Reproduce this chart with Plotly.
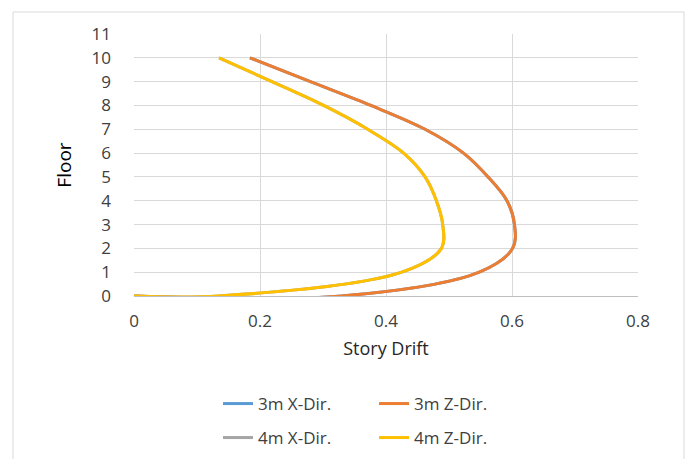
import plotly.graph_objects as go

# Values (floor 0 touch-down point included as read)
floors_3m = [0, 0, 1, 2, 3, 4, 5, 6, 7, 8, 9, 10]
drift_3m_z = [0.0, 0.33, 0.548, 0.601, 0.604, 0.592, 0.562, 0.523, 0.462, 0.376, 0.280, 0.184]
drift_3m_x = [0.0, 0.33, 0.548, 0.601, 0.604, 0.592, 0.562, 0.523, 0.462, 0.376, 0.280, 0.184]
floors_4m = [0, 0, 1, 2, 3, 4, 5, 6, 7, 8, 9, 10]
drift_4m_z = [0.0, 0.135, 0.425, 0.488, 0.490, 0.480, 0.462, 0.428, 0.371, 0.301, 0.219, 0.135]
drift_4m_x = [0.0, 0.135, 0.425, 0.488, 0.490, 0.480, 0.462, 0.428, 0.371, 0.301, 0.219, 0.135]

x_ticks = [0, 0.2, 0.4, 0.6, 0.8]
x_tick_labels = ["0", "0.2", "0.4", "0.6", "0.8"]
y_ticks = list(range(0, 12))

FONT = "Open Sans"
TXT = "#404040"

fig = go.Figure()
series = [
    ("3m X-Dir.", drift_3m_x, floors_3m, "#5B9BD5", "legend"),
    ("3m Z-Dir.", drift_3m_z, floors_3m, "#ED7D31", "legend"),
    ("4m X-Dir.", drift_4m_x, floors_4m, "#A5A5A5", "legend2"),
    ("4m Z-Dir.", drift_4m_z, floors_4m, "#FFC000", "legend2"),
]
for name, xs, ys, col, lg in series:
    fig.add_trace(go.Scatter(
        x=xs, y=ys, mode="lines", name=name, legend=lg,
        line=dict(color=col, width=3, shape="spline", smoothing=1.0),
    ))

W, H = 686, 459
L, R, T, B = 134, 48, 34, 163
pw, ph = W - L - R, H - T - B

def px2paper_x(px):
    return (px - L) / pw

def px2paper_y(py):
    return (H - B - py) / ph

fig.add_shape(type="rect", xref="paper", yref="paper",
              x0=px2paper_x(13), x1=px2paper_x(684),
              y0=px2paper_y(470), y1=px2paper_y(12),
              line=dict(color="#D9D9D9", width=1), layer="below")

fig.update_layout(
    width=W, height=H,
    margin=dict(l=L, r=R, t=T, b=B, autoexpand=False),
    paper_bgcolor="white", plot_bgcolor="white",
    font=dict(family=FONT, color=TXT, size=17),
    xaxis=dict(range=[0, 0.8], tickvals=x_ticks, ticktext=x_tick_labels,
               showgrid=True, gridcolor="#D9D9D9", gridwidth=1,
               zeroline=False, showline=True, linecolor="#BFBFBF", linewidth=1,
               ticks="", ticklabelstandoff=10, automargin=False,
               tickfont=dict(size=17, color="#404040"),
               title=dict(text="Story Drift", font=dict(size=18, color="#262626"), standoff=10)),
    yaxis=dict(range=[0, 11], tickvals=y_ticks,
               showgrid=True, gridcolor="#D9D9D9", gridwidth=1,
               zeroline=False, showline=False,
               ticks="", ticklabelstandoff=22, automargin=False,
               tickfont=dict(size=17, color="#404040"),
               title=dict(text="Floor", font=dict(size=19, color="#000000"), standoff=14)),
    legend=dict(orientation="h", x=px2paper_x(218), y=px2paper_y(404),
                xanchor="left", yanchor="middle", entrywidth=111, entrywidthmode="pixels",
                font=dict(size=17, color="#404040"), bgcolor="rgba(0,0,0,0)"),
    legend2=dict(orientation="h", x=px2paper_x(218), y=px2paper_y(438),
                 xanchor="left", yanchor="middle", entrywidth=111, entrywidthmode="pixels",
                 font=dict(size=17, color="#404040"), bgcolor="rgba(0,0,0,0)"),
    showlegend=True,
)

fig.write_html("out.html", config={"displayModeBar": False},
               post_script="document.body.style.margin='0px';")
